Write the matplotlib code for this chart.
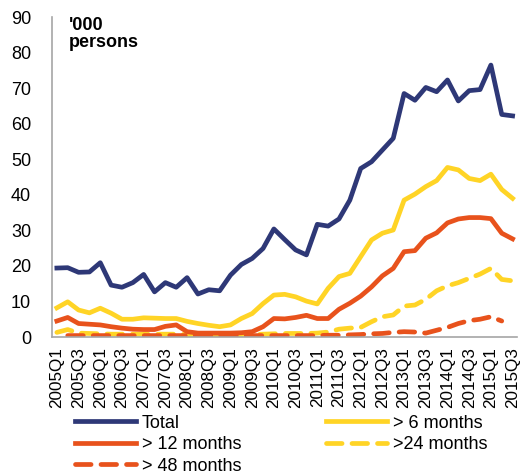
import numpy as np
import matplotlib.pyplot as plt

plt.rcParams['font.family'] = ['Liberation Sans', 'DejaVu Sans']

# quarters 2005Q1 .. 2015Q3
trimestres = [f"{a}Q{q}" for a in range(2005, 2016) for q in range(1, 5)][:43]

total = [19.4, 19.5, 18.2, 18.3, 20.9, 14.6, 14.0, 15.3, 17.6, 12.7, 15.3, 14.0,
         16.7, 12.1, 13.3, 13.0, 17.4, 20.4, 22.1, 24.9, 30.4, 27.4, 24.5, 23.1,
         31.7, 31.2, 33.2, 38.5, 47.4, 49.3, 52.6, 55.9, 68.5, 66.6, 70.2, 69.0,
         72.3, 66.4, 69.3, 69.6, 76.5, 62.6, 62.2]
mas_6 = [8.2, 9.9, 7.6, 6.8, 8.1, 6.7, 5.0, 5.0, 5.4, 5.3, 5.2, 5.2,
         4.4, 3.8, 3.3, 2.9, 3.4, 5.2, 6.6, 9.4, 11.8, 12.0, 11.3, 10.1,
         9.3, 13.7, 17.0, 17.9, 22.6, 27.3, 29.2, 30.1, 38.5, 40.2, 42.3, 44.0,
         47.7, 47.0, 44.6, 44.0, 45.8, 41.5, 39.0]
mas_12 = [4.5, 5.5, 3.8, 3.6, 3.4, 2.9, 2.5, 2.2, 2.1, 2.1, 3.0, 3.4,
          1.5, 1.1, 1.1, 1.1, 1.1, 1.2, 1.5, 2.9, 5.2, 5.1, 5.5, 6.1,
          5.2, 5.2, 7.8, 9.5, 11.5, 14.1, 17.2, 19.3, 24.0, 24.3, 27.8, 29.3,
          32.1, 33.2, 33.6, 33.6, 33.3, 29.2, 27.6]
mas_24 = [1.3, 2.1, 1.1, 1.0, 0.9, 0.8, 0.8, 0.8, 0.8, 0.8, 0.8, 0.8,
          0.7, 0.6, 0.6, 0.6, 0.6, 0.6, 0.7, 0.8, 0.9, 1.0, 1.0, 1.0,
          1.1, 1.4, 2.2, 2.5, 2.7, 4.3, 5.7, 6.2, 8.7, 9.0, 10.6, 13.0,
          14.4, 15.3, 16.5, 17.7, 19.3, 16.2, 15.8]
mas_48 = [np.nan, 0.4, 0.4, 0.4, 0.4, 0.4, 0.4, 0.4, 0.4, 0.4, 0.4, 0.4,
          0.4, 0.4, 0.4, 0.4, 0.4, 0.4, 0.4, 0.4, 0.4, 0.4, 0.4, 0.4,
          0.4, 0.5, 0.5, 0.6, 0.7, 0.9, 1.0, 1.3, 1.5, 1.4, 1.1, 1.9,
          2.7, 3.8, 4.6, 5.0, 5.7, 4.5, np.nan]

azul = "#2e3877"
amarillo = "#ffd426"
naranja = "#e8521c"
lw = 3.4
fs = 13

fig = plt.figure(figsize=(5.23, 4.74), dpi=100)
ax = fig.add_axes([0.0994, 0.289, 0.889, 0.675])
x = np.arange(len(trimestres))

l_total, = ax.plot(x, total, color=azul, lw=lw, label="Total")
l_6, = ax.plot(x, mas_6, color=amarillo, lw=lw, label="> 6 months")
l_24, = ax.plot(x, mas_24, color=amarillo, lw=lw, dashes=(3.3, 2.1),
                dash_capstyle='round', label=">24 months")
l_12, = ax.plot(x, mas_12, color=naranja, lw=lw, label="> 12 months")
l_48, = ax.plot(x, mas_48, color=naranja, lw=lw, dashes=(3.3, 2.1),
                dash_capstyle='round', label="> 48 months")

ax.set_ylim(0, 90)
ax.set_yticks(range(0, 91, 10))
ax.set_xlim(-0.45, 42.4)
ax.set_xticks(x[::2])
ax.set_xticklabels(trimestres[::2], rotation=90)
ax.tick_params(length=0, labelsize=fs)
ax.tick_params(axis='x', pad=7.5, labelsize=12.3)
ax.tick_params(axis='y', pad=15)

for lado in ["top", "right"]:
    ax.spines[lado].set_visible(False)
for lado in ["left", "bottom"]:
    ax.spines[lado].set_color("#a6a6a6")
    ax.spines[lado].set_linewidth(1.2)

ax.text(0.037, 1.0, "'000\npersons", transform=ax.transAxes, ha="left", va="top",
        fontsize=fs, fontweight="bold", linespacing=1.0)

fig.legend(handles=[l_total, l_12, l_48, l_6, l_24], ncol=2, frameon=False,
           loc="upper left", bbox_to_anchor=(0.143, 0.125), fontsize=fs,
           handlelength=3.4, handletextpad=0.3, columnspacing=4.7,
           labelspacing=0.25, borderaxespad=0, borderpad=0)

fig.savefig("out.png", dpi=100)
